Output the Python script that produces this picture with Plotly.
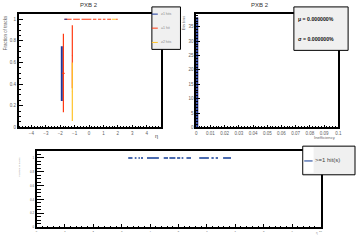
import plotly.graph_objects as go

W, H = 360, 240

# ---------------- data ----------------
# top-left: fraction of tracks vs eta
pt_eta_blue = [-1.89]
pt_eff_blue = [0.50]
pt_up_blue = [0.25]
pt_dn_blue = [0.255]

pt_eta_red = [-1.78, -1.16]
pt_eff_red = [0.50, 0.663]
pt_up_red = [0.365, 0.282]
pt_dn_red = [0.36, 0.30]
pt_ex_red = [0.1, 0.0]

pt_eta_yel = [-1.16]
pt_eff_yel = [0.33]
pt_up_yel = [0.27]
pt_dn_yel = [0.272]

# bins with efficiency 1 (segments lo..hi)
full_red_lo = [-1.71, -1.10, -0.52, 0.27, 0.62, 0.96, 1.26, 1.88]
full_red_hi = [-1.21, -0.64, 0.16, 0.51, 0.85, 1.14, 1.53, 1.99]
full_blue_lo = [-1.71]
full_blue_hi = [-1.52]
full_yel_lo = [1.58]
full_yel_hi = [1.88]
full_eff = 1.0

# top-right: histogram of inefficiency
ineff_centers = [0.00075]
ineff_counts = [38]
ineff_width = 0.0015

# bottom: efficiency vs x
bot_lo = [3.23, 3.46, 3.59, 3.68, 3.89, 4.48, 4.68, 4.95, 5.11, 5.28, 5.73, 6.16, 6.31, 6.57]
bot_hi = [3.38, 3.52, 3.64, 3.75, 4.31, 4.63, 4.89, 5.06, 5.17, 5.44, 6.07, 6.24, 6.39, 6.85]
bot_eff = 1.0

BLUE = "#1c3a9c"
RED = "#ff3a12"
YEL = "#ffc42a"
DBLUE = "#0f3a94"
TICKC = "#606060"


def segs(lo, hi, val):
    xs, ys = [], []
    for a, b in zip(lo, hi):
        xs += [a, b, None]
        ys += [val, val, None]
    return xs, ys


def px(x):
    return x / W


def py(y):
    return 1 - y / H


fig = go.Figure()

# ---- top-left ----
xs, ys = segs(full_red_lo, full_red_hi, full_eff)
fig.add_trace(go.Scatter(x=xs, y=ys, mode="lines", line=dict(color=RED, width=1.2),
                         xaxis="x", yaxis="y", showlegend=False))
xs, ys = segs(full_blue_lo, full_blue_hi, full_eff)
fig.add_trace(go.Scatter(x=xs, y=ys, mode="lines", line=dict(color=BLUE, width=1.2),
                         xaxis="x", yaxis="y", showlegend=False))
xs, ys = segs(full_yel_lo, full_yel_hi, full_eff)
fig.add_trace(go.Scatter(x=xs, y=ys, mode="lines", line=dict(color=YEL, width=1.2),
                         xaxis="x", yaxis="y", showlegend=False))

fig.add_trace(go.Scatter(x=pt_eta_blue, y=pt_eff_blue, mode="markers",
                         marker=dict(color=BLUE, size=1),
                         error_y=dict(type="data", array=pt_up_blue, arrayminus=pt_dn_blue,
                                      color=BLUE, thickness=2, width=0),
                         xaxis="x", yaxis="y", showlegend=False))
fig.add_trace(go.Scatter(x=pt_eta_red, y=pt_eff_red, mode="markers",
                         marker=dict(color=RED, size=1),
                         error_y=dict(type="data", array=pt_up_red, arrayminus=pt_dn_red,
                                      color=RED, thickness=1.2, width=0),
                         error_x=dict(type="data", array=pt_ex_red, color=RED, thickness=1, width=0),
                         xaxis="x", yaxis="y", showlegend=False))
fig.add_trace(go.Scatter(x=pt_eta_yel, y=pt_eff_yel, mode="markers",
                         marker=dict(color=YEL, size=1),
                         error_y=dict(type="data", array=pt_up_yel, arrayminus=pt_dn_yel,
                                      color=YEL, thickness=1.2, width=0),
                         xaxis="x", yaxis="y", showlegend=False))

# ---- top-right ----
fig.add_trace(go.Bar(x=ineff_centers, y=ineff_counts, width=[ineff_width],
                     marker=dict(color=BLUE, line=dict(color="#101060", width=0.5)),
                     xaxis="x2", yaxis="y2", showlegend=False))

# ---- bottom ----
xs, ys = segs(bot_lo, bot_hi, bot_eff)
fig.add_trace(go.Scatter(x=xs, y=ys, mode="lines", line=dict(color=DBLUE, width=1.3),
                         xaxis="x3", yaxis="y3", showlegend=False))


def ax(domain, rng, dtick, mdtick, tl, mtl, anchor, tick0=0, fmt=None):
    d = dict(domain=domain, range=rng, anchor=anchor, tick0=tick0, dtick=dtick,
             ticks="inside", ticklen=tl, tickwidth=1, tickcolor="black",
             minor=dict(ticks="inside", dtick=mdtick, ticklen=mtl, tickwidth=1, tickcolor="black"),
             showline=True, mirror=True, linecolor="black", linewidth=1.5,
             showgrid=False, zeroline=False,
             tickfont=dict(family="Liberation Sans", size=4.5, color=TICKC))
    if fmt:
        d["tickformat"] = fmt
    return d


fig.update_layout(
    width=W, height=H, margin=dict(l=0, r=0, t=0, b=0),
    paper_bgcolor="white", plot_bgcolor="white", bargap=0,
    xaxis=ax([px(18), px(162)], [-4.88, 4.98], 1, 0.2, 3, 1.5, "y"),
    yaxis=ax([py(129), py(14)], [0, 1.05], 0.2, 0.05, 4, 2, "x"),
    xaxis2=ax([px(198), px(342)], [0, 0.1], 0.01, 0.002, 3, 1.5, "y2"),
    yaxis2=ax([py(129), py(14)], [0, 39.5], 5, 1, 4, 2, "x2"),
    xaxis3=ax([px(36), px(324)], [0, 10], 1, 0.2, 3, 1.5, "y3"),
    yaxis3=ax([py(230), py(153)], [0, 1.1], 0.2, 0.05, 8, 4.5, "x3"),
)
fig.update_layout(xaxis3=dict(tickfont=dict(size=2.5)))
fig.update_layout(yaxis3=dict(tickfont=dict(size=3)))

ann = []
shapes = []


def text(x, y, s, size, color="#333", xanchor="center", yanchor="middle", angle=0, bold=False):
    if bold:
        s = "<b>" + s + "</b>"
    ann.append(dict(x=px(x), y=py(y), xref="paper", yref="paper", text=s, showarrow=False,
                    font=dict(family="Liberation Sans", size=size, color=color),
                    xanchor=xanchor, yanchor=yanchor, textangle=angle))


# titles
text(89, 5, "PXB 2", 6)
text(263, 5, "PXB 2", 6)
# axis titles
text(4, 13, "Fraction of tracks", 4.5, color="#666", yanchor="top", angle=-90)
text(161, 138, "η", 5.5, color="#444", xanchor="right")
text(185, 14, "Eta bins", 4, color="#666", yanchor="top", angle=-90)
text(342, 139.5, "Inefficiency", 4.2, color="#666", xanchor="right")
text(18, 157, "Fraction of tracks", 2.5, color="#999", yanchor="top", angle=-90)
text(323, 236, "η", 3, color="#999", xanchor="right")

# legend top-left
shapes.append(dict(type="rect", xref="paper", yref="paper", x0=px(153), x1=px(182), y0=py(50), y1=py(7),
                   fillcolor="#f0f0f0", line=dict(color="black", width=1)))
for yy, col, lab in [(14.3, BLUE, "≥1 hits"), (28.5, RED, "=1 hit"), (43, YEL, "≥2 hits")]:
    shapes.append(dict(type="line", xref="paper", yref="paper", x0=px(153), x1=px(159), y0=py(yy), y1=py(yy),
                       line=dict(color=col, width=1)))
    text(160, yy, lab, 3.5, color="#888", xanchor="left")

# stats box top-right
shapes.append(dict(type="rect", xref="paper", yref="paper", x0=px(297), x1=px(352), y0=py(51), y1=py(7),
                   fillcolor="#f0f0f0", line=dict(color="black", width=1)))
text(299, 19, "μ = 0.000000%", 5.2, color="#111", xanchor="left", bold=True)
text(299, 40, "σ = 0.000000%", 5.2, color="#111", xanchor="left", bold=True)

# legend bottom
shapes.append(dict(type="rect", xref="paper", yref="paper", x0=px(306), x1=px(359), y0=py(177), y1=py(148),
                   fillcolor="#f0f0f0", line=dict(color="black", width=1)))
shapes.append(dict(type="rect", xref="paper", yref="paper", x0=px(307), x1=px(317), y0=py(175), y1=py(149),
                   fillcolor="white", line=dict(width=0)))
shapes.append(dict(type="line", xref="paper", yref="paper", x0=px(307.5), x1=px(316), y0=py(163), y1=py(163),
                   line=dict(color=DBLUE, width=1)))
text(316, 162.5, "&gt;=1 hit(s)", 6, color="#444", xanchor="left")

fig.update_layout(annotations=ann, shapes=shapes)
fig.write_html("out.html")
